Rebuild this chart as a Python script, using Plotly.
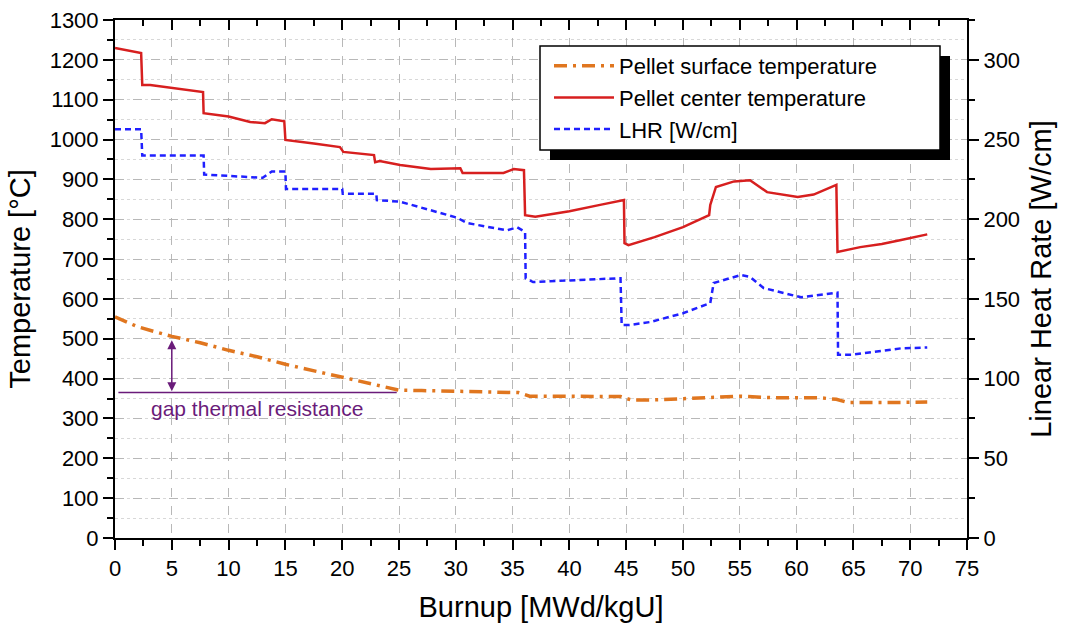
import plotly.graph_objects as go

# ---------------- data ----------------
center_x = [0, 2.3, 2.4, 3.1, 7.75, 7.8, 10, 11.9, 13.2, 13.8, 14.9, 15.0, 17.5, 19.8, 20.1, 22.8, 22.9, 23.3, 25.1, 27.8, 30.4, 30.6, 34.2, 35.1, 36.0, 36.1, 37.0, 40, 42.7, 44.8, 44.85, 45.2, 47.5, 50, 52.3, 52.4, 52.9, 54.5, 55.9, 57.4, 60.1, 61.5, 63.5, 63.6, 65.6, 67.5, 69.2, 71.5]
center_y = [1230, 1217, 1137, 1137, 1119, 1066, 1058, 1044, 1041, 1051, 1046, 999, 990, 981, 969, 961, 943, 946, 936, 926, 928, 916, 916, 926, 923, 810, 806, 820, 836, 848, 740, 735, 755, 780, 810, 836, 881, 895, 898, 868, 856, 862, 886, 718, 730, 738, 748, 762]

surf_x = [0, 2, 5, 7.5, 10, 12.5, 15, 17.5, 20, 22.5, 25, 27, 30, 33, 35.5, 36.5, 40, 44.5, 45.5, 48, 52, 55, 58, 62, 63.5, 64.5, 68, 71.5]
surf_y = [555, 530, 506, 490, 471, 455, 436, 420, 402, 386, 371, 370, 368, 366, 365, 356, 355, 355, 346, 347, 352, 356, 352, 352, 348, 340, 340, 341]

lhr_x = [0, 2.3, 2.4, 7.8, 7.85, 13.0, 13.8, 15.0, 15.05, 20.0, 20.05, 23.0, 23.05, 25.1, 30.1, 31.0, 34.5, 35.4, 36.1, 36.15, 36.8, 44.5, 44.6, 45.3, 47.1, 50, 52.4, 52.7, 55.1, 55.9, 57.1, 60.4, 63.6, 63.65, 64.8, 69.2, 71.5]
lhr_y = [256.5, 256.5, 240, 240, 228, 226, 230, 230, 219, 219, 216, 216, 212, 211, 201, 197.6, 193, 195, 192, 163, 160.6, 163, 133.6, 133.6, 135.5, 141, 147.4, 160, 165, 163.8, 156.8, 151, 154, 115, 115, 119, 119.5]

x_ticks = list(range(0, 80, 5))
t_ticks = list(range(0, 1400, 100))
r_ticks = list(range(0, 350, 50))

FONT = "Liberation Sans, Arial"
PURPLE = "#6a1b7a"

# plot area in pixels (for paper-coordinate conversion of legend box)
L, R, T, B = 115, 105, 20, 92
PW, PH = 1072 - L - R, 630 - T - B
def px(xp): return (xp - L) / PW
def py(yp): return (630 - B - yp) / PH

fig = go.Figure()
fig.add_trace(go.Scatter(x=surf_x, y=surf_y, mode="lines", name="Pellet surface temperature",
                         line=dict(color="#e0761f", width=3.5, dash="13px,6px,3px,6px")))
fig.add_trace(go.Scatter(x=center_x, y=center_y, mode="lines", name="Pellet center temperature",
                         line=dict(color="#d71f1f", width=2.5)))
fig.add_trace(go.Scatter(x=lhr_x, y=lhr_y, mode="lines", name="LHR [W/cm]", yaxis="y2",
                         line=dict(color="#2020ff", width=2.5, dash="6px,4px")))
# invisible trace for top axis
fig.add_trace(go.Scatter(x=[0], y=[0], xaxis="x2", mode="markers", marker=dict(opacity=0),
                         showlegend=False, hoverinfo="skip"))

axis_common = dict(showline=True, linecolor="black", linewidth=2, ticks="outside",
                   tickcolor="black", tickwidth=2, ticklen=10, automargin=False,
                   tickfont=dict(family=FONT, size=22, color="black"))
minor_common = dict(ticks="outside", ticklen=6, tickwidth=2, tickcolor="black")
TITLE_FONT = dict(family=FONT, size=29, color="black")

fig.update_layout(
    width=1072, height=630,
    margin=dict(l=L, r=R, t=T, b=B),
    plot_bgcolor="white", paper_bgcolor="white",
    font=dict(family=FONT, color="black"),
    xaxis=dict(range=[0, 75], tickvals=x_ticks, **axis_common,
               showgrid=True, gridcolor="#b8b8b8", griddash="dash", gridwidth=1,
               zeroline=False,
               minor=dict(dtick=2.5, showgrid=False, **minor_common),
               title=dict(text="Burnup [MWd/kgU]", font=TITLE_FONT, standoff=16)),
    xaxis2=dict(range=[0, 75], overlaying="x", side="top", showline=True, linecolor="black", linewidth=2,
                ticks="inside", tickvals=x_ticks, ticklen=10, tickwidth=2, tickcolor="black",
                showticklabels=False, showgrid=False, zeroline=False, automargin=False,
                minor=dict(dtick=2.5, ticks="inside", ticklen=6, tickwidth=2, tickcolor="black")),
    yaxis=dict(range=[0, 1300], tickvals=t_ticks, **axis_common,
               showgrid=True, gridcolor="#b8b8b8", griddash="dash", gridwidth=1,
               zeroline=False,
               minor=dict(dtick=50, showgrid=True, gridcolor="#d8d8d8", griddash="dot", **minor_common),
               title=dict(text="Temperature [°C]", font=TITLE_FONT, standoff=10)),
    yaxis2=dict(range=[0, 325], tickvals=r_ticks, overlaying="y", side="right", **axis_common,
                showgrid=False, zeroline=False,
                minor=dict(dtick=25, **minor_common),
                title=dict(text="Linear Heat Rate [W/cm]", font=TITLE_FONT, standoff=12)),
    legend=dict(x=px(549), y=py(45), xanchor="left", yanchor="top", bgcolor="rgba(0,0,0,0)",
                borderwidth=0, itemwidth=60,
                font=dict(family=FONT, size=22), tracegroupgap=0),
    showlegend=True,
)

# legend shadow and frame
fig.add_shape(type="rect", xref="paper", yref="paper", x0=px(550), x1=px(950), y0=py(160), y1=py(56),
              fillcolor="black", line=dict(width=0), layer="above")
fig.add_shape(type="rect", xref="paper", yref="paper", x0=px(540), x1=px(940), y0=py(150), y1=py(46),
              fillcolor="white", line=dict(color="black", width=1.5), layer="above")

# gap thermal resistance annotation
fig.add_shape(type="line", x0=0.3, x1=24.8, y0=365, y1=365, line=dict(color=PURPLE, width=1.5))
fig.add_annotation(x=5, y=368, ax=5, ay=500, xref="x", yref="y", axref="x", ayref="y",
                   showarrow=True, arrowhead=2, arrowside="end+start", arrowsize=1.2,
                   arrowwidth=1.5, arrowcolor=PURPLE, text="")
fig.add_annotation(x=12.5, y=326, xref="x", yref="y", text="gap thermal resistance", showarrow=False,
                   font=dict(family=FONT, size=21, color=PURPLE))

fig.write_html("out.html")
